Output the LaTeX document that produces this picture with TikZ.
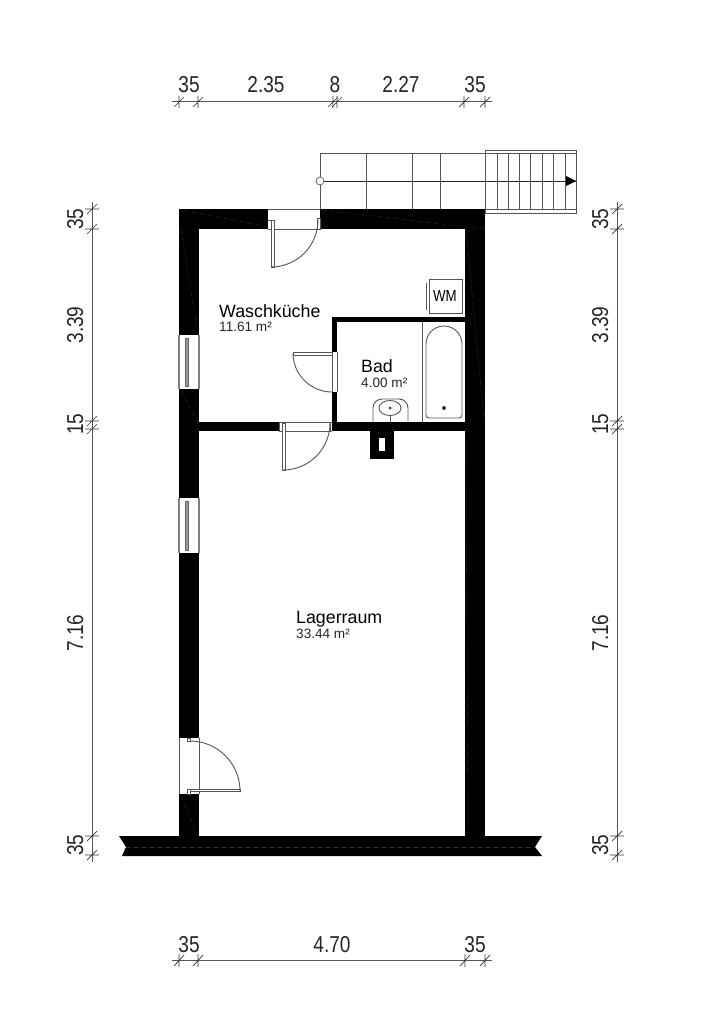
\documentclass[tikz,border=0pt]{standalone}
\usepackage{fontspec}
\setmainfont{Liberation Sans}
\newfontfamily\dimfont[FakeStretch=0.83]{Liberation Sans}
\definecolor{linegray}{HTML}{555555}
\tikzset {
  % solid wall pieces
  wall/.style={fill=black, draw=none},
  % faint seams inside the walls
  seam/.style={draw=black!82, line width=0.4pt, dash pattern=on 5pt off 3pt},
  % thin plan lines
  plan/.style={draw=linegray, line width=0.9pt},
  leaf/.style={draw=linegray, line width=0.7pt, fill=white},
  % dimension chains
  dimline/.style={draw=linegray, line width=1pt},
  dimtick/.style={draw=black!80, line width=0.7pt},
  dimtext/.style={font=\dimfont\fontsize{23}{23}\selectfont, inner sep=0pt, anchor=base, text=black!85},
  % room labels
  roomname/.style={font=\fontsize{17.8}{17.8}\selectfont, inner sep=0pt, anchor=base west},
  roomarea/.style={font=\fontsize{13.6}{13.6}\selectfont, inner sep=0pt, anchor=base west, text=black!85},
}
\begin{document}
\begin{tikzpicture}[x=1pt, y=-1pt]
  \useasboundingbox (0,0) rectangle (710,1024);

  % outer walls
  \fill[wall] (179,209) rectangle (268,229);
  \fill[wall] (320,209) rectangle (485,229);
  \fill[wall] (179,229) rectangle (199,335);
  \fill[wall] (179,389) rectangle (199,498);
  \fill[wall] (179,553) rectangle (199,738);
  \fill[wall] (179,794) rectangle (199,836);
  \fill[wall] (465,229) rectangle (485,836);
  \fill[wall] (119,836) -- (542,836) -- (535,847) -- (542,856) -- (122,856) -- (126,847) -- cycle;

  % inner walls
  \fill[wall] (199,422) rectangle (279,431);
  \fill[wall] (332,422) rectangle (465,431);
  \fill[wall] (332,317) rectangle (465,322);
  \fill[wall] (332,317) rectangle (337,352);
  \fill[wall] (332,392) rectangle (337,422);

  % seams
  \draw[seam] (184,210) -- (268,227);
  \draw[seam] (322,210) -- (485,229);
  \draw[seam] (181,229) -- (198,335);
  \draw[seam] (466,229) -- (484,420);
  \draw[seam] (181,391) -- (198,422);
  \draw[seam] (181,796) -- (198,836);
  \draw[seam] (126,847) -- (535,847);
  \draw[seam] (466,431) -- (468,836);

  % chimney
  \fill[wall] (370,431) rectangle (394,459);
  \fill[white] (379,438) rectangle (385,451);

  % stairs
  \draw[plan] (320,209) -- (320,153) -- (485,153);
  \foreach \xpos in {366,412,440}
    \draw[plan] (\xpos,153) -- (\xpos,209);
  \draw[plan] (485,150) rectangle (576,213);
  \draw[plan] (485,153) -- (576,153);
  \draw[plan] (485,209) -- (576,209);
  \foreach \xpos in {497,508,519,530,542,553,565}
    \draw[plan] (\xpos,153) -- (\xpos,209);
  \node[draw=linegray, line width=0.7pt, fill=white, circle, minimum size=8pt, inner sep=0pt] (start) at (320,181) {};
  \coordinate (end) at (576,181);
  \draw[plan, draw=black!85] (start) -- (end);
  \fill[black] (576,181) -- (566,176) -- (566,186) -- cycle;

  % door to the stairs
  \draw[plan] (268,209) -- (320,209);
  \draw[plan] (268,229) -- (320,229);
  \draw[leaf] (271,220) rectangle (274,267);
  \draw[leaf] (268,220) -- (274,220);
  \draw[leaf] (317,218) rectangle (320,229);
  \draw[plan] (271,267) arc[start angle=90, end angle=0, radius=47];

  % door to Lagerraum
  \draw[plan] (279,422) -- (332,422);
  \draw[plan] (279,431) -- (332,431);
  \draw[leaf] (282,423) rectangle (285,470);
  \draw[plan] (279,423) -- (279,431);
  \draw[plan] (330,423) -- (330,431);
  \draw[plan] (283,470) arc[start angle=90, end angle=0, radius=47];

  % door to Bad
  \draw[plan] (332,352) -- (332,392);
  \draw[plan] (337,352) -- (337,392);
  \draw[leaf] (293,352) rectangle (332,355);
  \draw[plan] (293,353) arc[start angle=180, end angle=90, radius=39];

  % door to the yard
  \draw[plan] (179,738) -- (179,794);
  \draw[plan] (199,738) -- (199,794);
  \draw[leaf] (187,789) rectangle (240,791);
  \draw[leaf] (187,789) rectangle (190,794);
  \draw[leaf] (187,738) rectangle (190,741);
  \draw[plan] (190,741) arc[start angle=-90, end angle=0, radius=50];

  % windows
  \foreach \ytop/\ybot in {335/389, 498/553} {
    \draw[plan, line width=1.2pt, draw=black!50] (179,\ytop) -- (179,\ybot) (199,\ytop) -- (199,\ybot);
    \draw[draw=black!60, fill=black!40, line width=0.6pt] (185.5,\ytop+3) rectangle (188.5,\ybot-3);
  }

  % washing machine
  \draw[plan] (429,279) rectangle (462,313);
  \draw[plan] (426,283) -- (426,310);
  \node[font=\dimfont\fontsize{16}{16}\selectfont, inner sep=0pt] (wm) at (445,296) {WM};

  % bath tub
  \draw[plan] (422,322) -- (422,422);
  \draw[plan] (426,415) -- (426,344) arc[start angle=180, end angle=360, radius=18] -- (462,415)
    arc[start angle=0, end angle=90, radius=3] -- (429,418) arc[start angle=90, end angle=180, radius=3];
  \fill[black!80] (444,408) circle (2pt);

  % sink
  \draw[plan] (373,422) -- (373,408) arc[start angle=180, end angle=270, radius=9] -- (399,399)
    arc[start angle=-90, end angle=0, radius=9] -- (408,422);
  \draw[plan] (390,408) ellipse (11 and 7.5);
  \fill[black!80] (390,408) circle (1.5pt);
  \draw[plan] (390,415) -- (390,422);

  % room labels
  \node[roomname] (wasch) at (219,317) {Waschküche};
  \node[roomarea] (waschm) at (219,331) {11.61 m²};
  \node[roomname] (bad) at (361,372) {Bad};
  \node[roomarea] (badm) at (361,387) {4.00 m²};
  \node[roomname] (lager) at (296,623) {Lagerraum};
  \node[roomarea] (lagerm) at (296,638) {33.44 m²};

  % top dimensions
  \draw[dimline] (172,102) -- (492,102);
  \foreach \xpos in {179,198,333,337,464,485}
    \draw[dimtick] (\xpos,96) -- (\xpos,108) (\xpos-5,107) -- (\xpos+5,97);
  \foreach \xpos/\dimval in {189/35, 266/2.35, 335/8, 401/2.27, 475/35}
    \node[dimtext] (top\xpos) at (\xpos,93) {\dimval};

  % bottom dimensions
  \draw[dimline] (172,960) -- (492,960);
  \foreach \xpos in {179,198,465,485}
    \draw[dimtick] (\xpos,954) -- (\xpos,967) (\xpos-5,966) -- (\xpos+5,955);
  \foreach \xpos/\dimval in {189/35, 332/4.70, 475/35}
    \node[dimtext] (bot\xpos) at (\xpos,952) {\dimval};

  % side dimensions
  \foreach \xpos/\lblx in {92/83, 617/608} {
    \draw[dimline] (\xpos,202) -- (\xpos,862);
    \foreach \ypos in {209,229,421,429,836,855}
      \draw[dimtick] (\xpos-7,\ypos) -- (\xpos+7,\ypos) (\xpos-5,\ypos+5) -- (\xpos+5,\ypos-5);
    \foreach \ypos/\dimval in {219/35, 325/3.39, 424/15, 633/7.16, 845/35}
      \node[dimtext, rotate=90] (side\xpos\ypos) at (\lblx,\ypos) {\dimval};
  }
\end{tikzpicture}
\end{document}
